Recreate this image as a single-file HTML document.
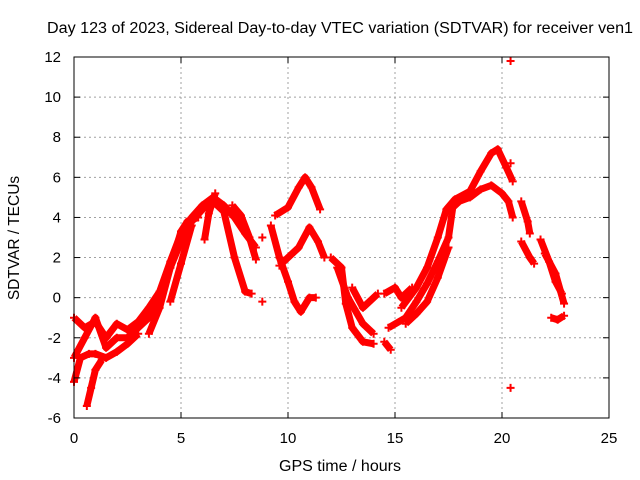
<!DOCTYPE html>
<html><head><meta charset="utf-8"><style>
body{margin:0;background:#fff}
svg{display:block;font-family:"Liberation Sans",sans-serif}
</style></head><body>
<svg id="chart" width="640" height="480">
<text x="340" y="33" font-size="15.5" text-anchor="middle" textLength="586" lengthAdjust="spacingAndGlyphs">Day 123 of 2023, Sidereal Day-to-day VTEC variation (SDTVAR) for receiver ven1</text>
<text x="340" y="471" font-size="15.5" text-anchor="middle" textLength="122" lengthAdjust="spacingAndGlyphs">GPS time / hours</text>
<text x="19" y="238" font-size="15.5" text-anchor="middle" transform="rotate(-90 19 238)">SDTVAR / TECUs</text>
<g id="grid"></g><g id="marks"></g><g id="axes"></g>
</svg>
<script>
const xTicks=[0,5,10,15,20,25];
const yTicks=[-6,-4,-2,0,2,4,6,8,10,12];
const tracks=[
[[0,-1],[0.5,-1.5],[1,-1.2],[1.5,-2],[2,-1.3],[2.5,-1.6],[3,-1.2],[3.5,-0.5],[4,0.3],[4.5,1.8],[5,3.2],[5.5,4],[6,4.6],[6.5,5],[7,4.6],[7.5,4],[8,3.2],[8.5,2.5]],
[[0,-3],[0.5,-2],[1,-1],[1.5,-2.5],[2,-2],[2.5,-2],[3,-1.5],[3.5,-1],[4,0],[4.5,1.5],[5,2.8],[5.5,3.8],[6,4.4],[6.5,4.8],[7,4.3],[7.5,2],[8,0.3],[8.3,0.2]],
[[0,-4.2],[0.3,-3],[0.7,-2.8],[1,-2.8],[1.5,-3],[2,-2.7],[2.5,-2.3],[3,-1.8]],
[[0.6,-5.4],[0.8,-4.5],[1,-3.6],[1.3,-3.1]],
[[3.5,-1.8],[4,-0.5],[4.5,1.5],[5,3.3],[5.3,3.8],[5.8,4]],
[[4.5,-0.2],[5,1.7],[5.5,3.6]],
[[6.1,2.9],[6.3,4.2],[6.6,5.2]],
[[7.4,4.6],[7.8,4.1],[8.2,3],[8.5,1.9]],
[[8.8,-0.2]],[[8.8,3]],
[[9.2,3.6],[9.6,2],[10,0.8],[10.3,-0.2],[10.6,-0.7],[11,0],[11.3,0]],
[[9.4,4.1],[10,4.5],[10.5,5.5],[10.8,6],[11.1,5.5],[11.5,4.4]],
[[9.6,1.6],[10,2],[10.5,2.5],[11,3.5],[11.4,2.8],[11.7,2]],
[[12,2],[12.5,1.5],[12.7,-0.3],[13,-1.5],[13.5,-2.2],[14,-2.3]],
[[12.3,1.5],[12.8,0],[13.5,-1.3],[14,-1.8]],
[[13,0.5],[13.5,-0.5],[14.2,0.2]],
[[14.5,-2.2],[14.8,-2.6]],
[[14.7,-1.5],[15.5,-1],[16,-0.2],[16.5,0.7],[17,1.8],[17.5,3],[17.7,4.5],[18,4.8],[18.5,5],[19,5.4],[19.5,5.6],[20,5.2],[20.3,4.8],[20.5,4]],
[[15.3,-0.5],[16,0.5],[16.5,1.5],[17,3],[17.4,4.4],[17.8,4.9],[18.5,5.3],[19,6.3],[19.5,7.2],[19.8,7.4],[20.2,6.5],[20.5,5.8]],
[[15.5,-1.3],[16,-0.8],[16.5,-0.2],[17,1],[17.5,2.5]],
[[14.5,0.2],[15,0.5],[15.3,0],[15.8,0.5]],
[[20.9,4.8],[21.2,3.8],[21.3,3.2]],
[[20.9,2.8],[21.3,2],[21.5,1.7]],
[[21.8,2.9],[22.2,1.8],[22.5,0.8],[22.8,0.2]],
[[22,2.2],[22.5,1.2],[22.9,-0.3]],
[[22.3,-1],[22.6,-1.1],[22.9,-0.9]],
[[20.4,11.8]],[[20.4,-4.5]],[[20.4,6.7]]
];
const L=74,R=609,T=57,B=418;
const xs=v=>L+(v-0)/25*(R-L);
const ys=v=>B-(v+6)/18*(B-T);
const NS="http://www.w3.org/2000/svg";
function mk(tag,attrs,parent){const e=document.createElementNS(NS,tag);for(const k in attrs)e.setAttribute(k,attrs[k]);parent.appendChild(e);return e;}
const grid=document.getElementById('grid'),marks=document.getElementById('marks'),axes=document.getElementById('axes');
xTicks.forEach(t=>{
 if(t>0&&t<25){const g=mk('line',{x1:xs(t),x2:xs(t),y1:T,y2:B,stroke:'#a0a0a0','stroke-dasharray':'2,3'},grid);
 
 }
 const tx=mk('text',{x:xs(t),y:B+25,'font-size':15,'text-anchor':'middle'},axes);tx.textContent=t;
 
 
 mk('line',{x1:xs(t),x2:xs(t),y1:B,y2:B-6,stroke:'#000'},axes);
 mk('line',{x1:xs(t),x2:xs(t),y1:T,y2:T+6,stroke:'#000'},axes);
});
yTicks.forEach(t=>{
 if(t>-6&&t<12){const g=mk('line',{x1:L,x2:R,y1:ys(t),y2:ys(t),stroke:'#a0a0a0','stroke-dasharray':'2,3'},grid);
 
 }
 const tx=mk('text',{x:L-13,y:ys(t)+5,'font-size':15,'text-anchor':'end'},axes);tx.textContent=t;
 
 
 mk('line',{x1:L,x2:L+6,y1:ys(t),y2:ys(t),stroke:'#000'},axes);
 mk('line',{x1:R,x2:R-6,y1:ys(t),y2:ys(t),stroke:'#000'},axes);
});
const bx=mk('rect',{x:L,y:T,width:R-L,height:B-T,fill:'none',stroke:'#000'},axes);


tracks.forEach(tr=>{
 if(tr.length>1){const p=mk('polyline',{points:tr.map(d=>xs(d[0])+','+ys(d[1])).join(' '),fill:'none',stroke:'#f00','stroke-width':7,'stroke-linejoin':'round'},marks);
 
 }
 tr.forEach(d=>{const x=xs(d[0]),y=ys(d[1]);
  const m=mk('path',{d:`M${x-4},${y}H${x+4}M${x},${y-4}V${y+4}`,stroke:'#f00','stroke-width':2},marks);
  
  });
});
</script>
</body></html>
